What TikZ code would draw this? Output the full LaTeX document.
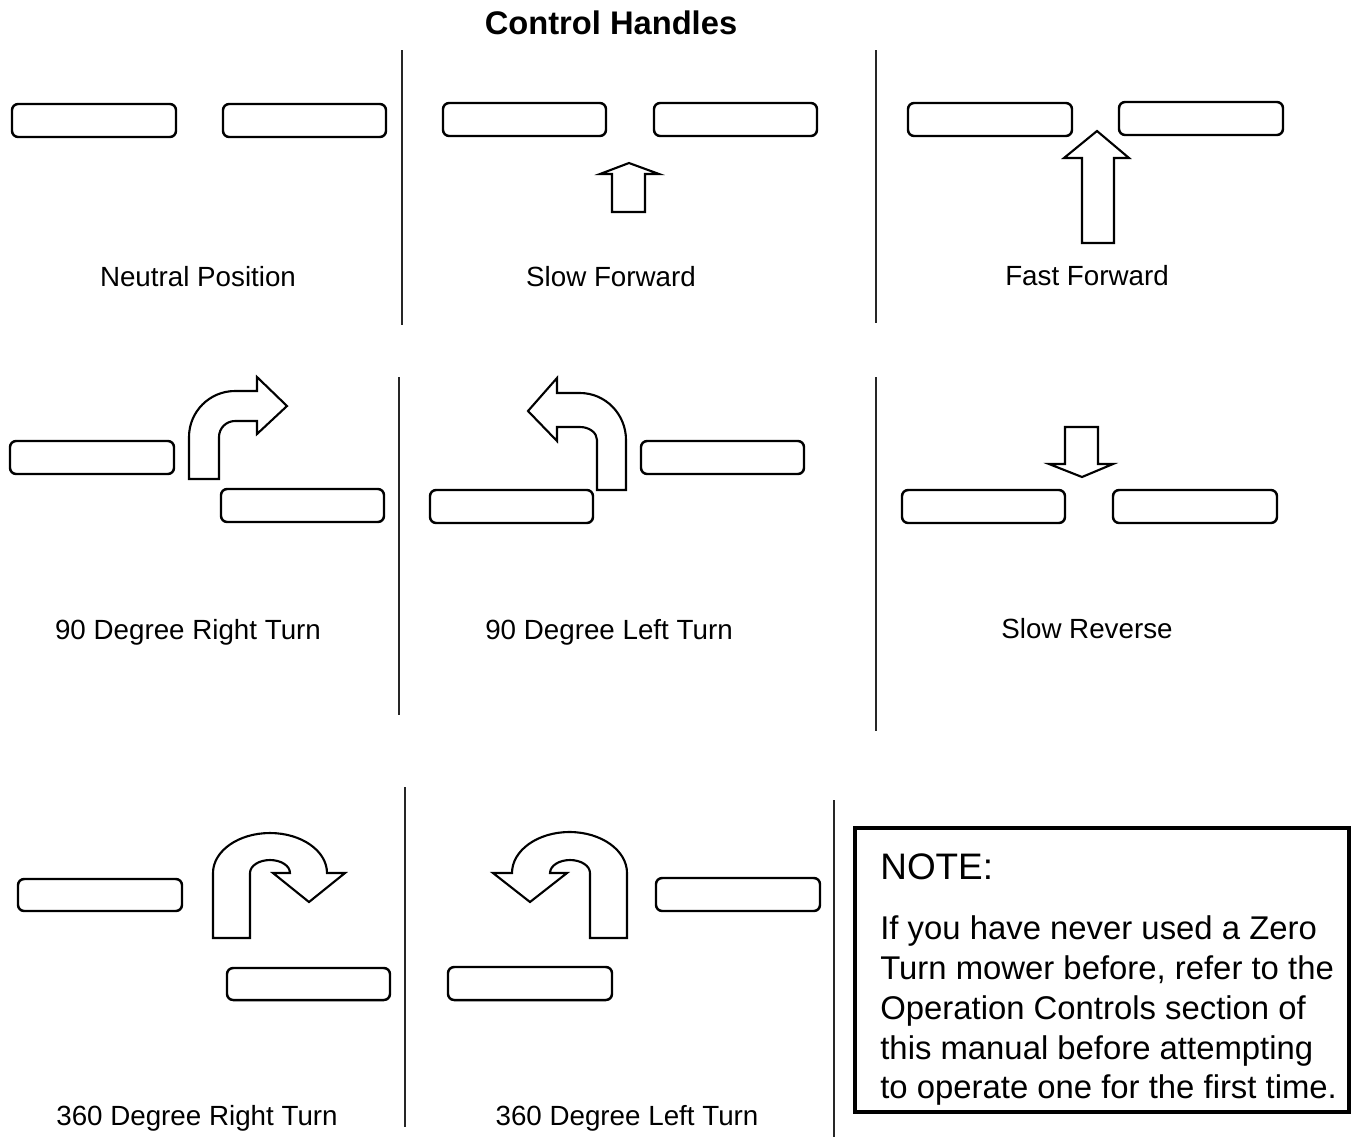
\documentclass[tikz,border=0pt]{standalone}
\usepackage{fontspec}
\setmainfont{Liberation Sans}
\begin{document}
\begin{tikzpicture}[x=0.02cm,y=-0.02cm,
  handle/.style={draw=black, line width=1.4pt, rounded corners=3.5pt, fill=white},
  arrowshape/.style={draw=black, line width=1.2pt, fill=white, line join=miter},
  divider/.style={draw=black!85, line width=0.8pt},
  lbl/.style={font=\fontsize{15.8}{19}\selectfont, anchor=base, inner sep=0pt},
  titlestyle/.style={font=\bfseries\fontsize{18.6}{22}\selectfont, anchor=base, inner sep=0pt},
  notehead/.style={font=\fontsize{21}{25}\selectfont, anchor=base west, inner sep=0pt},
  noteline/.style={font=\fontsize{18.7}{22.7}\selectfont, anchor=base west, inner sep=0pt}]
\useasboundingbox (0,0) rectangle (1352,1137);

% title
\node[titlestyle] (title) at (611,34) {Control Handles};

% dividers
\draw[divider] (402,50) -- (402,325);
\draw[divider] (876,50) -- (876,323);
\draw[divider] (399,377) -- (399,715);
\draw[divider] (876,377) -- (876,731);
\draw[divider] (405,787) -- (405,1127);
\draw[divider] (834,800) -- (834,1137);

% ---- Row 1 ----
% Neutral
\path[handle] (12,104) rectangle (176,137);
\path[handle] (223,104) rectangle (386,137);
\node[lbl] (neutral) at (198,286) {Neutral Position};

% Slow forward
\path[handle] (443,103) rectangle (606,136);
\path[handle] (654,103) rectangle (817,136);
\path[arrowshape] (612,212) -- (612,174) -- (600,174) -- (629,163) -- (659,174) -- (645,174) -- (645,212) -- cycle;
\node[lbl] (slowfwd) at (611,286) {Slow Forward};

% Fast forward
\path[handle] (908,103) rectangle (1072,136);
\path[handle] (1119,102) rectangle (1283,135);
\path[arrowshape] (1082,243) -- (1082,158) -- (1064,158) -- (1097,131) -- (1129,158) -- (1114,158) -- (1114,243) -- cycle;
\node[lbl] (fastfwd) at (1087,285) {Fast Forward};

% ---- Row 2 ----
% 90 right
\path[handle] (10,441) rectangle (174,474);
\path[handle] (221,489) rectangle (384,522);
\path[arrowshape] (189,479) -- (189,437) arc[start angle=180,end angle=270,radius=46]
  -- (257,391) -- (257,377) -- (287,406) -- (257,434) -- (257,421) -- (235,421)
  arc[start angle=270,end angle=180,radius=16] -- (219,479) -- cycle;
\node[lbl] (right90) at (188,639) {90 Degree Right Turn};

% 90 left
\path[handle] (430,490) rectangle (593,523);
\path[handle] (641,441) rectangle (804,474);
\path[arrowshape] (626,490) -- (626,440) arc[start angle=0,end angle=-90,x radius=46,y radius=47]
  -- (557,393) -- (557,378) -- (528,411) -- (557,441) -- (557,427) -- (580,427)
  arc[start angle=-90,end angle=0,x radius=17,y radius=13] -- (597,490) -- cycle;
\node[lbl] (left90) at (609,639) {90 Degree Left Turn};

% Slow reverse
\path[handle] (902,490) rectangle (1065,523);
\path[handle] (1113,490) rectangle (1277,523);
\path[arrowshape] (1065,427) -- (1098,427) -- (1098,464) -- (1113,464) -- (1082,477) -- (1049,464) -- (1065,464) -- cycle;
\node[lbl] (slowrev) at (1087,638) {Slow Reverse};

% ---- Row 3 ----
% 360 right
\path[handle] (18,879) rectangle (182,911);
\path[handle] (227,968) rectangle (390,1000);
\path[arrowshape] (213,938) -- (213,873) arc[start angle=180,end angle=360,x radius=57,y radius=40]
  -- (345,873) -- (309,902) -- (273,873) -- (290,873)
  arc[start angle=0,end angle=-180,x radius=20,y radius=13] -- (250,938) -- cycle;
\node[lbl] (right360) at (197,1125) {360 Degree Right Turn};

% 360 left
\path[handle] (656,878) rectangle (820,911);
\path[handle] (448,967) rectangle (612,1000);
\path[arrowshape] (627,938) -- (627,873) arc[start angle=0,end angle=-180,x radius=57.5,y radius=41]
  -- (493,873) -- (530,902) -- (567,873) -- (550,873)
  arc[start angle=180,end angle=360,x radius=20,y radius=13] -- (590,938) -- cycle;
\node[lbl] (left360) at (627,1125) {360 Degree Left Turn};

% ---- Note box ----
\draw[line width=2.3pt] (855,828) rectangle (1349,1112);
\node[notehead] (note) at (880,879) {NOTE:};
\node[noteline] (n1) at (880,939) {If you have never used a Zero};
\node[noteline] (n2) at (880,979) {Turn mower before, refer to the};
\node[noteline] (n3) at (880,1019) {Operation Controls section of};
\node[noteline] (n4) at (880,1059) {this manual before attempting};
\node[noteline] (n5) at (880,1098) {to operate one for the first time.};
\end{tikzpicture}
\end{document}
